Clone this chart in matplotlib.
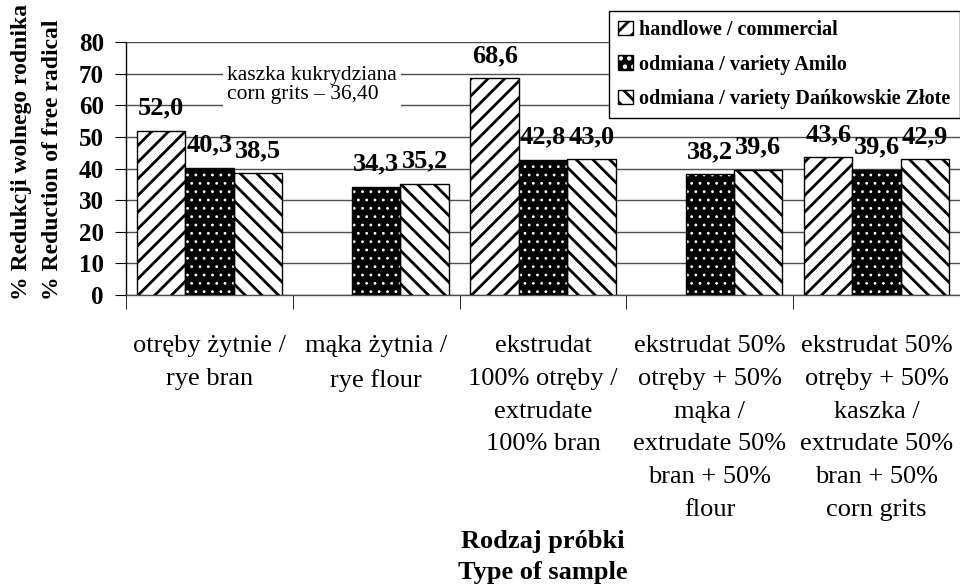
import matplotlib
matplotlib.use("Agg")
import matplotlib.pyplot as plt
import numpy as np
from matplotlib.patches import Patch

plt.rcParams['font.family'] = ['Liberation Serif', 'DejaVu Serif']

# values
categories = [
    'otręby żytnie /\nrye bran',
    'mąka żytnia /\nrye flour',
    'ekstrudat\n100% otręby /\nextrudate\n100% bran',
    'ekstrudat 50%\notręby + 50%\nmąka /\nextrudate 50%\nbran + 50%\nflour',
    'ekstrudat 50%\notręby + 50%\nkaszka /\nextrudate 50%\nbran + 50%\ncorn grits',
]
commercial = [52.0, np.nan, 68.6, np.nan, 43.6]
amilo = [40.3, 34.3, 42.8, 38.2, 39.6]
dankowskie = [38.5, 35.2, 43.0, 39.6, 42.9]
series_names = ['handlowe / commercial',
                'odmiana / variety Amilo',
                'odmiana / variety Dańkowskie Złote']
corn_grits = 36.40
yticks = [0, 10, 20, 30, 40, 50, 60, 70, 80]


def fmt(v):
    return f"{v:.1f}".replace('.', ',')


fig = plt.figure(figsize=(9.6, 5.84), dpi=100)
ax = fig.add_axes([126 / 960, 1 - 295 / 584, 1 - 126 / 960, (295 - 42) / 584])

x = np.arange(len(categories))
w = 0.29

plt.rcParams['hatch.linewidth'] = 2.0
b1 = ax.bar(x - w, commercial, w, color='white', edgecolor='black', hatch='//', lw=1, zorder=3)
plt.rcParams['hatch.linewidth'] = 0.8
b2 = ax.bar(x, amilo, w, color='black', edgecolor='white', hatch='..', lw=0, zorder=3)
ax.bar(x, amilo, w, fill=False, edgecolor='black', lw=1, zorder=4)
plt.rcParams['hatch.linewidth'] = 2.0
b3 = ax.bar(x + w, dankowskie, w, color='white', edgecolor='black', hatch='\\\\', lw=1, zorder=3)

for bars, vals in [(b1, commercial), (b2, amilo), (b3, dankowskie)]:
    for rect, v in zip(bars, vals):
        if np.isnan(v):
            continue
        ax.annotate(fmt(v), (rect.get_x() + rect.get_width() / 2, v),
                    xytext=(0, 8), textcoords='offset points',
                    ha='center', va='bottom', fontsize=19, fontweight='bold', zorder=5)

ax.set_xlim(-0.5, len(categories) - 0.5)
ax.set_ylim(0, 80)
ax.set_yticks(yticks)
ax.grid(axis='y', color='0.3', lw=1, zorder=0)
ax.set_axisbelow(True)
for s in ['top', 'right']:
    ax.spines[s].set_visible(False)
ax.spines['left'].set_linewidth(1)
ax.spines['bottom'].set_linewidth(1)
ax.spines['bottom'].set_color('0.3')

ax.set_xticks(x)
ax.set_xticklabels(categories, fontsize=19, linespacing=1.63)
ax.tick_params(axis='x', length=0, pad=29)
ax.set_xticks(np.arange(len(categories)) - 0.5, minor=True)
ax.tick_params(axis='x', which='minor', length=10, direction='out')
ax.tick_params(axis='y', length=8, direction='out', pad=8)
for lab in ax.get_yticklabels():
    lab.set_fontsize(18)
    lab.set_fontweight('bold')

ax.text(0.105, 72.5, f"kaszka kukrydziana\ncorn grits – {corn_grits:.2f}".replace('.', ','),
        fontsize=15.5, linespacing=1.0, ha='left', va='top', zorder=2,
        bbox=dict(facecolor='white', edgecolor='none', pad=3))

h_com = Patch(facecolor='white', edgecolor='black', hatch='//')
h_ami = (Patch(facecolor='black', edgecolor='white', hatch='..', lw=0),
         Patch(fill=False, edgecolor='black'))
h_dan = Patch(facecolor='white', edgecolor='black', hatch='\\\\')
leg = fig.legend([h_com, h_ami, h_dan], series_names, loc='upper left',
                 bbox_to_anchor=(609 / 960, 1 - 11 / 584), borderaxespad=0,
                 prop={'size': 14.5, 'weight': 'bold'}, handlelength=0.75, handleheight=0.75,
                 handletextpad=0.3, labelspacing=0.72, borderpad=0.45,
                 fancybox=False, framealpha=1, edgecolor='black')
leg.get_frame().set_linewidth(1)

fig.text(37 / 960, 1 - 300 / 584, "% Redukcji wolnego rodnika\n% Reduction of free radical",
         rotation=90, ha='center', va='bottom', multialignment='left',
         fontsize=17, fontweight='bold', linespacing=1.6)
fig.text(543 / 960, 1 - 557 / 584, "Rodzaj próbki\nType of sample",
         ha='center', va='center', fontsize=19, fontweight='bold', linespacing=1.45)

fig.savefig('out.png', dpi=100)
